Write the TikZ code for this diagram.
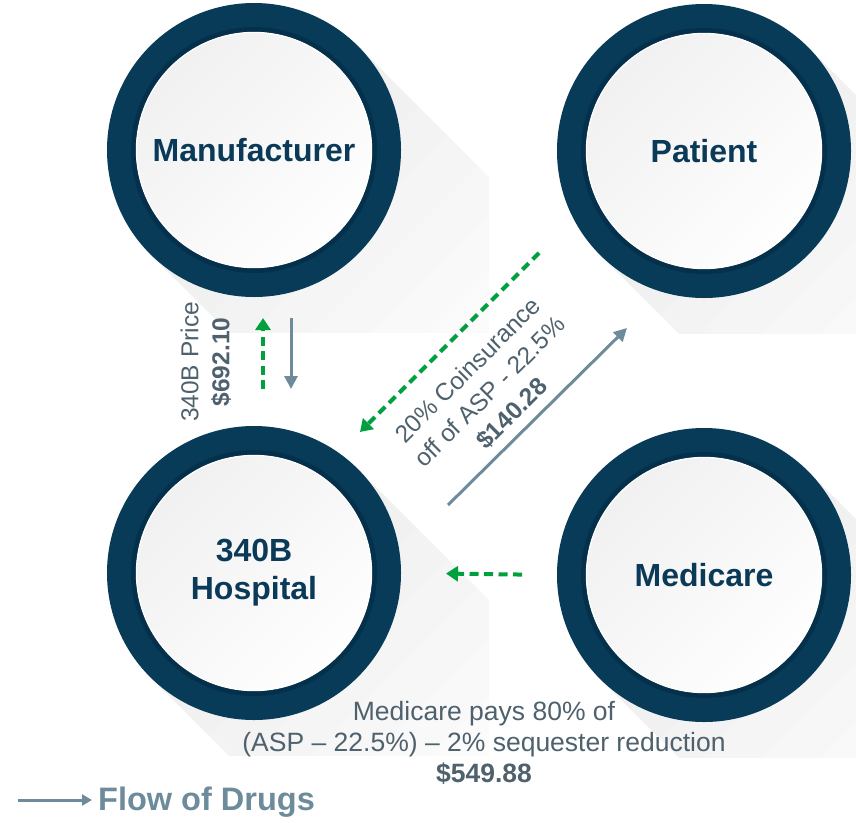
\documentclass[tikz,border=0pt]{standalone}
\usepackage{fontspec}
\setmainfont{Liberation Sans}
\usetikzlibrary{arrows.meta,calc,backgrounds}
\definecolor{navy}{HTML}{083B58}
\definecolor{navydk}{HTML}{04304B}
\definecolor{annot}{HTML}{4E616D}
\definecolor{flow}{HTML}{6E8B9B}
\definecolor{grn}{HTML}{00A03E}
\definecolor{lbl}{HTML}{0B3A58}
\begin{document}
\begin{tikzpicture}[x=1pt,y=-1pt,
  hub/.style={circle, minimum size=265pt, inner sep=0pt, line width=29pt, draw=navy,
    top color=black!6, bottom color=white, shading angle=45,
    font=\fontsize{32}{38}\selectfont\bfseries, text=lbl, align=center},
  annotxt/.style={text=annot, align=center, inner sep=0pt},
  garrow/.style={draw=grn, line width=4pt, dash pattern=on 9pt off 5.5pt,
    -{Triangle[width=15pt,length=12pt]}},
  farrow/.style={draw=flow, line width=3pt, -{Triangle[width=13pt,length=13pt]}}]
\useasboundingbox (0,0) rectangle (856,822);

% circles
\node[hub] (man)  at (254,150) {Manufacturer};
\node[hub] (pat)  at (704,151) {Patient};
\node[hub] (hosp) at (254,573) {340B\\Hospital};
\node[hub] (med)  at (704,575) {Medicare};

\foreach \n in {man,pat,hosp,med}{
  \draw[navydk, line width=5pt] (\n.center) circle (120.5pt);
  \draw[white, line width=1.2pt] (\n.center) circle (117.6pt);
}

% long shadows (stacked faint layers give a fade)
\begin{scope}[on background layer]
\foreach \n in {man,pat,hosp,med}{
  \begin{scope}
    \clip ($(\n.center)+(-200,-200)$) rectangle ($(\n.center)+(235,182)$);
    \foreach \L in {30,60,...,240}{
      \fill[black, opacity=0.008]
        ($(\n.center)+(104,-104)$) -- ++(\L,\L)
        -- ($(\n.center)+(-104,104)+(\L,\L)$) -- ($(\n.center)+(-104,104)$) -- cycle;
    }
  \end{scope}
}
\end{scope}

% Manufacturer <-> Hospital
\draw[garrow, shorten <=37pt, shorten >=21pt] ([xshift=9pt]hosp.north) -- ([xshift=9pt]man.south);
\draw[farrow, shorten <=21pt, shorten >=37pt] ([xshift=37pt]man.south) -- ([xshift=37pt]hosp.north);
\node[annotxt, rotate=90, font=\fontsize{24.5}{31}\selectfont] (price) at (206,362)
  {340B Price\\\textbf{\$692.10}};

% Patient <-> Hospital
\coordinate (gs) at (539,253);
\coordinate (ge) at (360,432);
\coordinate (fs) at (448,505);
\coordinate (fe) at (627,328);
\draw[garrow] (gs) -- (ge);
\draw[farrow] (fs) -- (fe);
\node[annotxt, rotate=45, font=\fontsize{24.5}{31}\selectfont] (coins) at (490,392)
  {20\% Coinsurance\\off of ASP - 22.5\%\\\textbf{\$140.28}};

% Medicare -> Hospital
\draw[garrow, shorten <=35pt, shorten >=45pt] (med.west) -- (hosp.east);
\node[annotxt, font=\fontsize{26.5}{31}\selectfont] (mpay) at (484,743)
  {Medicare pays 80\% of\\(ASP – 22.5\%) – 2\% sequester reduction\\\textbf{\$549.88}};

% legend
\node[anchor=west, inner sep=0pt, text=flow, font=\fontsize{32.5}{38}\selectfont\bfseries] (legend) at (98,802) {Flow of Drugs};
\coordinate (legstart) at (18,800);
\draw[draw=flow, line width=3pt, -{Triangle[width=11pt,length=10pt]}, shorten >=6pt] (legstart) -- (legstart -| legend.west);
\end{tikzpicture}
\end{document}
